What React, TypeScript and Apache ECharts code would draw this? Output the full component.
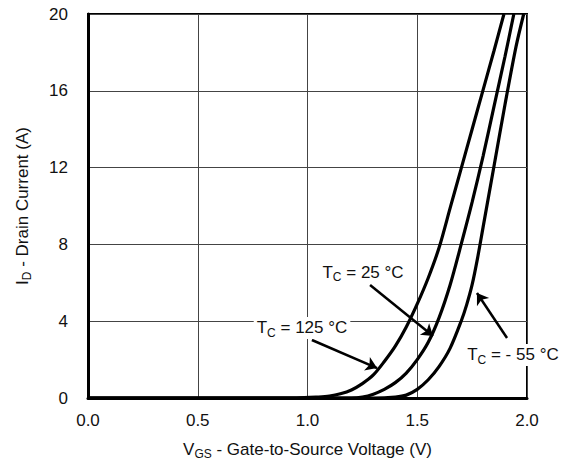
import React, { useEffect, useRef } from "react";
import * as echarts from "echarts";

const FONT = "'Liberation Sans', Arial, Helvetica, sans-serif";

// V_GS (V) and I_D (A) for each case temperature
const vgs125 = [0.0, 0.95, 1.05, 1.1, 1.15, 1.2, 1.25, 1.3, 1.35, 1.4, 1.45, 1.5, 1.55, 1.6, 1.65, 1.7, 1.75, 1.8, 1.85, 1.895];
const id125 = [0, 0, 0.05, 0.1, 0.22, 0.42, 0.75, 1.2, 1.9, 2.7, 3.7, 4.9, 6.25, 7.85, 9.9, 11.95, 14.0, 16.05, 18.1, 20];

const vgs25 = [0.0, 1.2, 1.25, 1.3, 1.35, 1.4, 1.45, 1.5, 1.55, 1.6, 1.65, 1.7, 1.75, 1.8, 1.85, 1.9, 1.94];
const id25 = [0, 0, 0.05, 0.2, 0.45, 0.8, 1.3, 2.0, 2.9, 4.2, 5.9, 8.0, 10.2, 12.6, 15.2, 17.8, 20];

const vgsM55 = [0.0, 1.3, 1.4, 1.45, 1.5, 1.55, 1.6, 1.65, 1.7, 1.725, 1.75, 1.775, 1.8, 1.85, 1.9, 1.95, 1.985];
const idM55 = [0, 0, 0.05, 0.15, 0.45, 0.95, 1.65, 2.6, 4.0, 4.85, 5.9, 7.3, 8.9, 12.1, 15.3, 18.3, 20];

// axis ticks
const xMin = 0, xMax = 2, xStep = 0.5;
const yMin = 0, yMax = 20, yStep = 4;

// annotations (data coordinates)
const annoLabels = ["25 °C", "125 °C", "- 55 °C"];
const annoTextAt = [[1.253, 6.56], [0.975, 3.65], [1.936, 2.24]];
const arrowFrom = [[1.285, 5.89], [1.02, 3.02], [1.909, 3.125]];
const arrowTo = [[1.572, 3.23], [1.317, 1.56], [1.772, 5.47]];

const zip = (xs: number[], ys: number[]) => xs.map((x, i) => [x, ys[i]]);

const FS = 17;
const SUB = 12;
const rich = {
  n: { fontSize: FS, fontFamily: FONT, color: "#111", lineHeight: 22 },
  s: { fontSize: SUB, fontFamily: FONT, color: "#111", lineHeight: 12, verticalAlign: "bottom" as const },
};
const richG = {
  n: { fontSize: FS, fontFamily: FONT, fill: "#111", lineHeight: 22 },
  s: { fontSize: SUB, fontFamily: FONT, fill: "#111", lineHeight: 12, verticalAlign: "bottom" as const },
};

export default function App() {
  const ref = useRef<HTMLDivElement>(null);
  useEffect(() => {
    if (!ref.current) return;
    const chart = echarts.init(ref.current, null, { renderer: "svg" });
    const lineSeries = (name: string, xs: number[], ys: number[]) => ({
      name,
      type: "line",
      data: zip(xs, ys),
      smooth: 0.3,
      showSymbol: false,
      symbol: "none",
      lineStyle: { color: "#000", width: 3.2 },
      silent: true,
      z: 3,
    });
    const s125: any = lineSeries("125", vgs125, id125);
    s125.markLine = {
      silent: true,
      symbol: ["none", "arrow"],
      symbolSize: 11,
      label: { show: false },
      lineStyle: { color: "#000", width: 2.5, type: "solid" },
      emphasis: { disabled: true },
      data: arrowFrom.map((f, i) => [{ coord: f }, { coord: arrowTo[i] }]),
    };
    chart.setOption({
      animation: false,
      grid: {
        left: 88,
        right: 44,
        top: 14,
        bottom: 68,
        show: true,
        borderColor: "#000",
        borderWidth: 2,
        backgroundColor: "transparent",
      },
      xAxis: {
        type: "value",
        min: xMin,
        max: xMax,
        interval: xStep,
        name: "{n|V}{s|GS}{n| - Gate-to-Source Voltage (V)}",
        nameLocation: "middle",
        nameGap: 40,
        nameTextStyle: { rich },
        axisLine: { show: true, lineStyle: { color: "#000", width: 3 } },
        axisTick: { show: false },
        axisLabel: {
          formatter: (v: number) => v.toFixed(1),
          fontSize: FS,
          fontFamily: FONT,
          color: "#111",
          margin: 14,
        },
        splitLine: { show: true, lineStyle: { color: "#444", width: 1 } },
      },
      yAxis: {
        type: "value",
        min: yMin,
        max: yMax,
        interval: yStep,
        name: "{n|I}{s|D}{n| - Drain Current (A)}",
        nameLocation: "middle",
        nameGap: 55,
        nameRotate: 90,
        nameTextStyle: { rich },
        axisLine: { show: true, lineStyle: { color: "#000", width: 3 } },
        axisTick: { show: false },
        axisLabel: {
          fontSize: FS,
          fontFamily: FONT,
          color: "#111",
          margin: 20,
        },
        splitLine: { show: true, lineStyle: { color: "#444", width: 1 } },
      },
      series: [s125, lineSeries("25", vgs25, id25), lineSeries("-55", vgsM55, idM55)],
    });
    const graphic = annoLabels.map((t, i) => {
      const [px, py] = chart.convertToPixel({ gridIndex: 0 }, annoTextAt[i]) as number[];
      return {
        type: "text",
        x: px,
        y: py,
        z: 100,
        silent: true,
        style: {
          text: `{n|T}{s|C}{n| = ${t}}`,
          rich: richG,
          align: "center",
          verticalAlign: "middle",
          backgroundColor: "#fff",
          padding: [0, 3],
        },
      };
    });
    chart.setOption({ graphic });
    return () => chart.dispose();
  }, []);
  return (
    <div
      ref={ref}
      style={{ position: "fixed", left: 0, top: 0, width: 571, height: 466, background: "#fff" }}
    />
  );
}
